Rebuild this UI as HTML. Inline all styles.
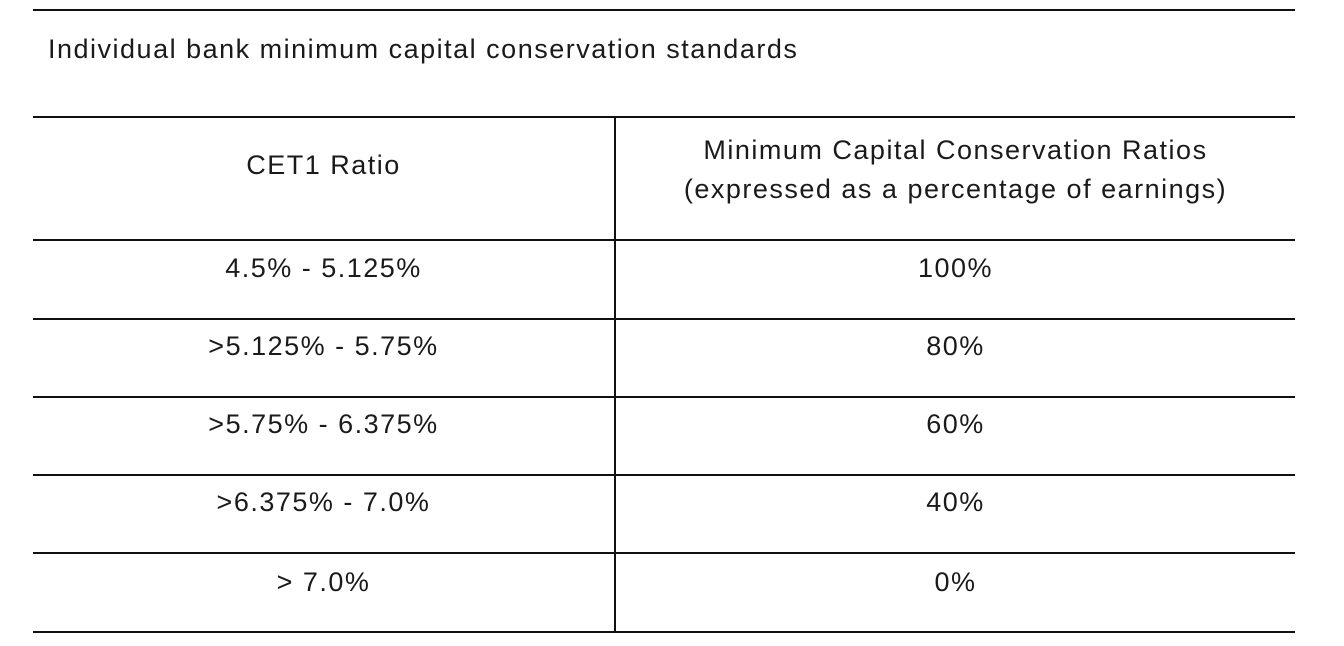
<!DOCTYPE html>
<html><head><meta charset="utf-8"><style>
html,body{margin:0;padding:0;background:#fff;width:1344px;height:646px;overflow:hidden}
body{position:relative;font-family:"Liberation Sans",sans-serif;color:#1a1a1a}
.h{position:absolute;left:33px;width:1262px;height:2px;background:#111}
.v{position:absolute;left:614px;top:117px;width:2px;height:516px;background:#111}
.t{position:absolute;font-size:27px;letter-spacing:1.5px;white-space:nowrap;text-align:center;line-height:30px}
.c1{left:33px;width:581px}
.c2{left:616px;width:679px}
</style></head><body>
<div class="h" style="top:9px"></div>
<div class="t" style="left:48px;top:34px;text-align:left">Individual bank minimum capital conservation standards</div>
<div class="h" style="top:116px"></div>
<div class="v"></div>
<div class="t c1" style="top:150px">CET1 Ratio</div>
<div class="t c2" style="top:131px;line-height:39px">Minimum Capital Conservation Ratios<br>(expressed as a percentage of earnings)</div>
<div class="h" style="top:239px"></div>
<div class="t c1" style="top:253px">4.5% - 5.125%</div>
<div class="t c2" style="top:253px">100%</div>
<div class="h" style="top:318px"></div>
<div class="t c1" style="top:331px">&gt;5.125% - 5.75%</div>
<div class="t c2" style="top:331px">80%</div>
<div class="h" style="top:396px"></div>
<div class="t c1" style="top:409px">&gt;5.75% - 6.375%</div>
<div class="t c2" style="top:409px">60%</div>
<div class="h" style="top:474px"></div>
<div class="t c1" style="top:487px">&gt;6.375% - 7.0%</div>
<div class="t c2" style="top:487px">40%</div>
<div class="h" style="top:552px"></div>
<div class="t c1" style="top:567px">&gt; 7.0%</div>
<div class="t c2" style="top:567px">0%</div>
<div class="h" style="top:631px"></div>
</body></html>
